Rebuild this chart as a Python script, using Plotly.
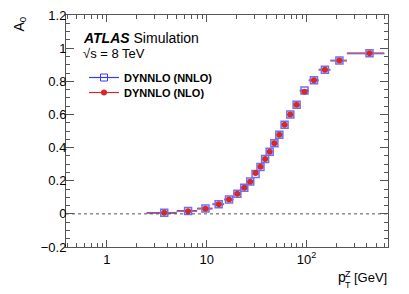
import plotly.graph_objects as go

# pT bin edges [GeV]
bin_edges = [2.5, 5.0, 8.0, 11.4, 14.9, 18.5, 22.0, 25.5, 29.0, 32.6, 36.4, 40.4,
             44.9, 50.2, 56.4, 63.9, 73.4, 85.4, 105.0, 132.0, 173.0, 253.0, 600.0]
# A0 values
a0_nnlo = [0.006, 0.017, 0.032, 0.058, 0.087, 0.122, 0.158, 0.195, 0.240, 0.283,
           0.331, 0.375, 0.426, 0.478, 0.537, 0.599, 0.659, 0.745, 0.806, 0.870,
           0.925, 0.969]
a0_nlo = [0.006, 0.015, 0.031, 0.058, 0.086, 0.121, 0.158, 0.194, 0.246, 0.285,
          0.331, 0.375, 0.426, 0.478, 0.537, 0.599, 0.659, 0.737, 0.806, 0.870,
          0.925, 0.969]
series_names = ["DYNNLO (NNLO)", "DYNNLO (NLO)"]
x_tickvals = [1, 10, 100]
x_ticktext = ["1", "10", "10<sup>2</sup>"]
x_minor = [0.4, 0.5, 0.6, 0.7, 0.8, 0.9, 2, 3, 4, 5, 6, 7, 8, 9,
           20, 30, 40, 50, 60, 70, 80, 90, 200, 300, 400, 500, 600]
y_tickvals = [-0.2, 0, 0.2, 0.4, 0.6, 0.8, 1.0, 1.2]
y_ticktext = ["\u22120.2", "0", "0.2", "0.4", "0.6", "0.8", "1", "1.2"]

centers = [(lo + hi) / 2 for lo, hi in zip(bin_edges[:-1], bin_edges[1:])]
err_plus = [hi - c for hi, c in zip(bin_edges[1:], centers)]
err_minus = [c - lo for lo, c in zip(bin_edges[:-1], centers)]

FONT = "Liberation Sans, Arial, sans-serif"
BLUE = "#3b3bf0"
RED = "#d42a2a"
fig = go.Figure()
fig.add_trace(go.Scatter(
    x=centers, y=a0_nnlo, mode="markers", name=series_names[0], showlegend=False,
    marker=dict(symbol="square-open", size=7, color="#6f6ff5", line=dict(width=1.5)),
    error_x=dict(type="data", symmetric=False, array=err_plus, arrayminus=err_minus,
                 color=BLUE, thickness=1.8, width=0),
))
fig.add_trace(go.Scatter(
    x=centers, y=a0_nlo, mode="markers", name=series_names[1], showlegend=False,
    marker=dict(symbol="circle", size=6, color=RED),
    error_x=dict(type="data", symmetric=False, array=err_plus, arrayminus=err_minus,
                 color="#e06060", thickness=1.0, width=0),
))
# legend entries (line + marker look, as in the reference)
fig.add_trace(go.Scatter(x=[None], y=[None], mode="lines+markers", name=series_names[0],
                         legend="legend",
                         line=dict(color=BLUE, width=1.2),
                         marker=dict(symbol="square-open", size=7, color=BLUE)))
fig.add_trace(go.Scatter(x=[None], y=[None], mode="lines+markers", name=series_names[1],
                         legend="legend2",
                         line=dict(color=RED, width=1.2),
                         marker=dict(symbol="circle", size=6, color=RED)))

fig.add_shape(type="line", xref="paper", yref="y", x0=0, x1=1, y0=0, y1=0,
              line=dict(color="#555", width=1, dash="dot"))

axis_common = dict(showline=True, linecolor="#555", linewidth=1, mirror="allticks",
                   ticks="inside", tickcolor="#555", showgrid=False, zeroline=False,
                   tickfont=dict(family=FONT, size=13, color="black"))
fig.update_xaxes(type="log", range=[-0.41, 2.815], tickvals=x_tickvals, ticktext=x_ticktext,
                 ticklen=7,
                 minor=dict(ticks="inside", ticklen=4, tickcolor="#555", showgrid=False,
                            tickmode="array", tickvals=x_minor),
                 **axis_common)
fig.update_yaxes(range=[-0.2, 1.2], ticklen=8, ticklabelstandoff=-4,
                 tickvals=y_tickvals, ticktext=y_ticktext,
                 minor=dict(ticks="inside", ticklen=4, dtick=0.05, tickcolor="#555", showgrid=False),
                 **axis_common)

L, R, T, B = 66, 21, 15, 47
W, H = 409, 294
pw, ph = W - L - R, H - T - B
def px(x): return (x - L) / pw
def py(y): return (H - B - y) / ph

ann = [
    dict(text="<b><i>ATLAS</i></b> Simulation", x=px(81), y=py(38), xanchor="left", yanchor="middle",
         font=dict(size=14)),
    dict(text="\u221as = 8 TeV", x=px(81), y=py(53), xanchor="left", yanchor="middle",
         font=dict(size=13)),
    dict(text="A<sub>0</sub>", x=px(19), y=1.0, xanchor="center", yanchor="top", textangle=-90,
         font=dict(size=14)),
    dict(text="p", x=px(336), y=py(277), xanchor="left", yanchor="middle", font=dict(size=14)),
    dict(text="Z", x=px(343), y=py(274), xanchor="left", yanchor="middle", font=dict(size=9)),
    dict(text="T", x=px(343), y=py(285), xanchor="left", yanchor="middle", font=dict(size=9)),
    dict(text="[GeV]", x=px(389), y=py(277), xanchor="right", yanchor="middle", font=dict(size=13)),
]
for a in ann:
    a.update(xref="paper", yref="paper", showarrow=False)
    a["font"].update(family=FONT, color="black")

leg_common = dict(xanchor="left", yanchor="top", bgcolor="rgba(0,0,0,0)",
                  font=dict(family=FONT, size=11, color="black", weight="bold"),
                  itemwidth=30)
fig.update_layout(
    width=W, height=H, margin=dict(l=L, r=R, t=T, b=B, autoexpand=False),
    paper_bgcolor="white", plot_bgcolor="white",
    font=dict(family=FONT, color="black"),
    annotations=ann,
    legend=dict(x=px(84), y=py(63), **leg_common),
    legend2=dict(x=px(84), y=py(78), **leg_common),
)
fig.write_html("out.html", config={"displayModeBar": False},
               post_script="document.body.style.margin='0';")
